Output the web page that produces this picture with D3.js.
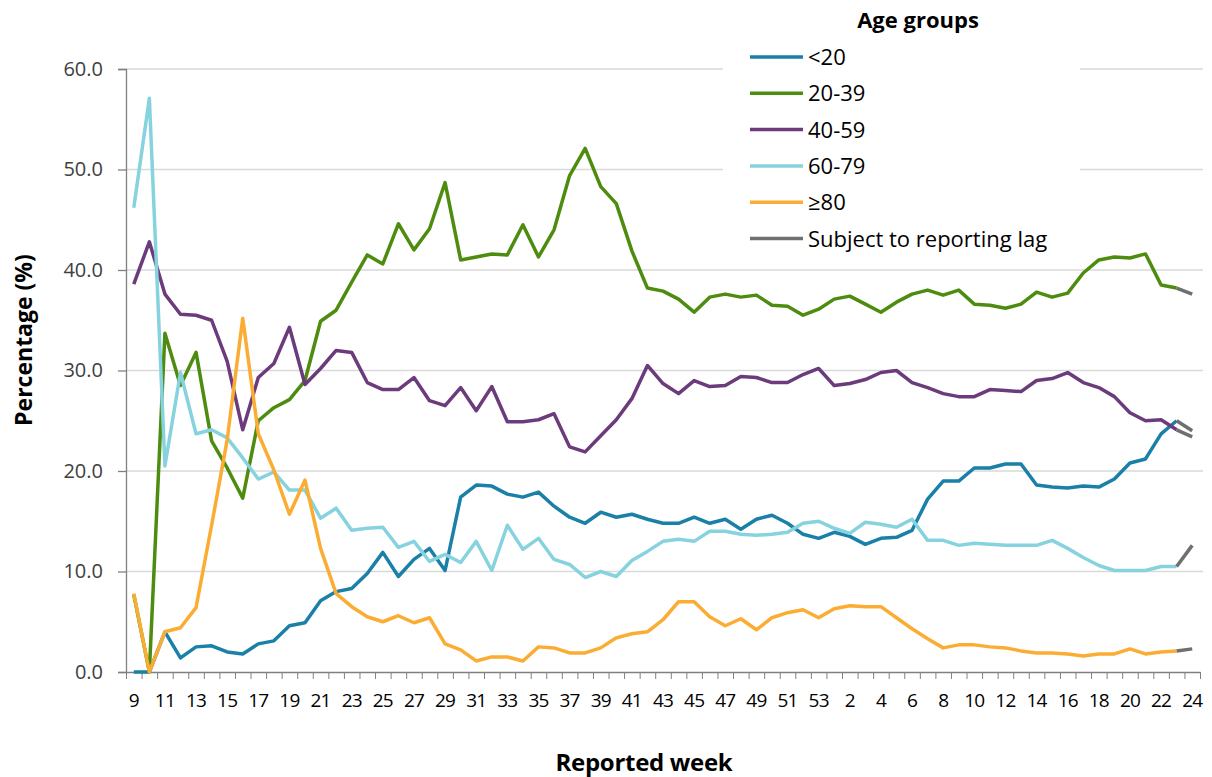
<!DOCTYPE html>
<html>
<head>
<meta charset="utf-8">
<script src="https://cdn.jsdelivr.net/npm/d3@7/dist/d3.min.js"></script>
<style>
  body { margin: 0; background: #fff; }
  svg { display: block; }
</style>
</head>
<body>
<svg id="chart" width="1212" height="777"></svg>
<script>
// reported weeks: 9..53 then 1..24
var weeks = d3.range(9, 54).concat(d3.range(1, 25));

var under20 = [0, 0, 4.0, 1.4, 2.5, 2.6, 2.0, 1.8, 2.8, 3.1, 4.6, 4.9,
  7.1, 8.0, 8.3, 9.8, 11.9, 9.5, 11.2, 12.3, 10.1, 17.4, 18.6, 18.5,
  17.7, 17.4, 17.9, 16.5, 15.4, 14.8, 15.9, 15.4, 15.7, 15.2, 14.8,
  14.8, 15.4, 14.8, 15.2, 14.2, 15.2, 15.6, 14.8, 13.7, 13.3, 13.9, 13.5,
  12.7, 13.3, 13.4, 14.1, 17.2, 19.0, 19.0, 20.3, 20.3, 20.7, 20.7,
  18.6, 18.4, 18.3, 18.5, 18.4, 19.2, 20.8, 21.2, 23.7, 25.0, 24.0];

var age20to39 = [7.7, 0, 33.7, 28.5, 31.8, 23.0, 20.3, 17.3, 25.0, 26.3, 27.1, 29.0,
  34.9, 36.0, 38.8, 41.5, 40.6, 44.6, 42.0, 44.1, 48.7, 41.0, 41.3, 41.6,
  41.5, 44.5, 41.3, 44.0, 49.4, 52.1, 48.3, 46.6, 41.9, 38.2, 37.9,
  37.1, 35.8, 37.3, 37.6, 37.3, 37.5, 36.5, 36.4, 35.5, 36.1, 37.1, 37.4,
  36.6, 35.8, 36.8, 37.6, 38.0, 37.5, 38.0, 36.6, 36.5, 36.2, 36.6,
  37.8, 37.3, 37.7, 39.7, 41.0, 41.3, 41.2, 41.6, 38.5, 38.2, 37.6];

var age40to59 = [38.6, 42.8, 37.6, 35.6, 35.5, 35.0, 30.9, 24.1, 29.3, 30.7, 34.3, 28.6,
  30.2, 32.0, 31.8, 28.8, 28.1, 28.1, 29.3, 27.0, 26.5, 28.3, 26.0, 28.4,
  24.9, 24.9, 25.1, 25.7, 22.4, 21.9, 23.5, 25.1, 27.2, 30.5, 28.7,
  27.7, 29.0, 28.4, 28.5, 29.4, 29.3, 28.8, 28.8, 29.6, 30.2, 28.5, 28.7,
  29.1, 29.8, 30.0, 28.8, 28.3, 27.7, 27.4, 27.4, 28.1, 28.0, 27.9,
  29.0, 29.2, 29.8, 28.8, 28.3, 27.4, 25.8, 25.0, 25.1, 24.1, 23.4];

var age60to79 = [46.2, 57.1, 20.5, 29.8, 23.7, 24.1, 23.3, 21.3, 19.2, 19.9, 18.1, 18.1,
  15.3, 16.3, 14.1, 14.3, 14.4, 12.4, 13.0, 11.0, 11.7, 10.9, 13.0, 10.1,
  14.6, 12.2, 13.3, 11.2, 10.7, 9.4, 10.0, 9.5, 11.1, 12.0, 13.0,
  13.2, 13.0, 14.0, 14.0, 13.7, 13.6, 13.7, 13.9, 14.8, 15.0, 14.3, 13.8,
  14.9, 14.7, 14.4, 15.2, 13.1, 13.1, 12.6, 12.8, 12.7, 12.6, 12.6,
  12.6, 13.1, 12.3, 11.4, 10.6, 10.1, 10.1, 10.1, 10.5, 10.5, 12.6];

var age80plus = [7.8, 0, 4.0, 4.4, 6.4, 14.6, 23.1, 35.2, 23.7, 20.1, 15.7, 19.1,
  12.3, 7.8, 6.5, 5.5, 5.0, 5.6, 4.9, 5.4, 2.8, 2.2, 1.1, 1.5,
  1.5, 1.1, 2.5, 2.4, 1.9, 1.9, 2.4, 3.4, 3.8, 4.0, 5.2,
  7.0, 7.0, 5.5, 4.6, 5.3, 4.2, 5.4, 5.9, 6.2, 5.4, 6.3, 6.6,
  6.5, 6.5, 5.4, 4.3, 3.3, 2.4, 2.7, 2.7, 2.5, 2.4, 2.1,
  1.9, 1.9, 1.8, 1.6, 1.8, 1.8, 2.3, 1.8, 2.0, 2.1, 2.3];

var seriesNames = ["<20", "20-39", "40-59", "60-79", "\u226580"];
var seriesValues = [under20, age20to39, age40to59, age60to79, age80plus];
var seriesColors = ["#1a80a8", "#4e8c10", "#6b3b7c", "#86d3df", "#fbad33"];
var lagName = "Subject to reporting lag";
var lagColor = "#6f6f6f";
var lagPoints = 2; // last interval is subject to reporting lag
var yTicks = [0, 10, 20, 30, 40, 50, 60];

var svg = d3.select("#chart");
var margin = {top: 69, right: 12, bottom: 105, left: 126};
var width = 1212 - margin.left - margin.right;
var height = 777 - margin.top - margin.bottom;

var g = svg.append("g").attr("transform", "translate(" + margin.left + "," + margin.top + ")");

var idx = d3.range(weeks.length);
var x = d3.scaleBand().domain(idx).range([0, width]).padding(0);
var xEdge = d3.scaleLinear().domain([0, weeks.length]).range([0, width]);
var y = d3.scaleLinear().domain([0, 60]).range([height, 0]);
var cx = function(i) { return x(i) + x.bandwidth() / 2; };

// gridlines
g.append("g")
  .selectAll("line")
  .data(yTicks.filter(function(d) { return d > 0; }))
  .enter().append("line")
  .attr("x1", 0).attr("x2", width + 3)
  .attr("y1", function(d) { return y(d); })
  .attr("y2", function(d) { return y(d); })
  .attr("stroke", "#d9d9d9").attr("stroke-width", 1.3);

// legend background hides gridlines behind it
svg.append("rect")
  .attr("x", 723).attr("y", 0).attr("width", 357).attr("height", 258)
  .attr("fill", "#fff");

// y axis
var yAxis = g.append("g")
  .call(d3.axisLeft(y).tickValues(yTicks).tickFormat(d3.format(".1f")).tickSize(8).tickPadding(15));
yAxis.select(".domain").attr("stroke", "#808080").attr("stroke-width", 1.3);
yAxis.selectAll(".tick line").attr("stroke", "#808080").attr("stroke-width", 1.3);
yAxis.selectAll("text")
  .attr("font-family", "'Open Sans', sans-serif").attr("font-size", 20).attr("fill", "#404040");

// x axis: tick marks between categories
var xTickAxis = g.append("g")
  .attr("transform", "translate(0," + height + ")")
  .call(d3.axisBottom(xEdge).tickValues(d3.range(weeks.length + 1)).tickFormat("").tickSize(7).tickSizeOuter(0));
xTickAxis.select(".domain").attr("stroke", "#808080").attr("stroke-width", 1.3);
xTickAxis.selectAll(".tick line").attr("stroke", "#808080").attr("stroke-width", 1);

// x axis labels at every other category
var xLabelAxis = g.append("g")
  .attr("transform", "translate(0," + height + ")")
  .call(d3.axisBottom(x)
    .tickValues(idx.filter(function(i) { return i % 2 === 0; }))
    .tickFormat(function(i) { return weeks[i]; })
    .tickSize(0).tickPadding(22));
xLabelAxis.select(".domain").remove();
xLabelAxis.selectAll("text")
  .attr("font-family", "'Open Sans', sans-serif").attr("font-size", 19)
  .attr("letter-spacing", "-0.8px").attr("fill", "#000");

// lines
var line = d3.line()
  .x(function(d) { return cx(d.i); })
  .y(function(d) { return y(d.v); });

var n = weeks.length;
seriesValues.forEach(function(vals, s) {
  var pts = vals.map(function(v, i) { return {i: i, v: v}; });
  g.append("path")
    .datum(pts.slice(0, n - lagPoints + 1))
    .attr("fill", "none")
    .attr("stroke", seriesColors[s])
    .attr("stroke-width", 3.5)
    .attr("stroke-linejoin", "round")
    .attr("d", line);
});
seriesValues.forEach(function(vals) {
  var pts = vals.map(function(v, i) { return {i: i, v: v}; });
  g.append("path")
    .datum(pts.slice(n - lagPoints))
    .attr("fill", "none")
    .attr("stroke", lagColor)
    .attr("stroke-width", 3.5)
    .attr("d", line);
});

// axis titles
svg.append("text")
  .attr("transform", "translate(32,340) rotate(-90)")
  .attr("text-anchor", "middle")
  .attr("font-family", "'Open Sans', sans-serif").attr("font-weight", "bold").attr("font-size", 23)
  .attr("fill", "#000")
  .text("Percentage (%)");

svg.append("text")
  .attr("x", 644).attr("y", 771)
  .attr("text-anchor", "middle")
  .attr("font-family", "'Open Sans', sans-serif").attr("font-weight", "bold").attr("font-size", 24)
  .attr("letter-spacing", "-0.3px")
  .attr("fill", "#000")
  .text("Reported week");

// legend
var legend = svg.append("g");
legend.append("text")
  .attr("x", 918).attr("y", 28)
  .attr("text-anchor", "middle")
  .attr("font-family", "'Open Sans', sans-serif").attr("font-weight", "bold").attr("font-size", 22)
  .attr("fill", "#000")
  .text("Age groups");

var legendNames = seriesNames.concat([lagName]);
var legendColors = seriesColors.concat([lagColor]);
var rows = legend.selectAll("g.row")
  .data(legendNames)
  .enter().append("g")
  .attr("class", "row")
  .attr("transform", function(d, i) { return "translate(750," + (57 + i * 36.3) + ")"; });
rows.append("line")
  .attr("x1", 0).attr("x2", 53).attr("y1", 0).attr("y2", 0)
  .attr("stroke", function(d, i) { return legendColors[i]; })
  .attr("stroke-width", 3.5);
rows.append("text")
  .attr("x", 58).attr("y", 8)
  .attr("font-family", "'Open Sans', sans-serif").attr("font-size", 22)
  .attr("fill", "#000")
  .text(function(d) { return d; });
</script>
</body>
</html>
